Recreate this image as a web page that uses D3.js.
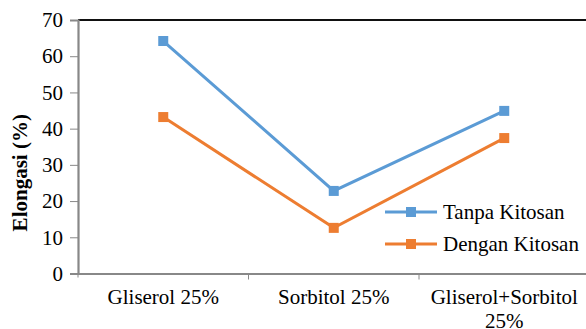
<!DOCTYPE html>
<html>
<head>
<meta charset="utf-8">
<script src="https://cdn.jsdelivr.net/npm/d3@7"></script>
<style>
  html, body { margin: 0; padding: 0; background: #fff; }
  svg { display: block; }
  svg text { font-family: "Liberation Serif", serif; fill: #000; }
</style>
</head>
<body>
<div id="chart"></div>
<script>
// Elongation of films by plasticizer type, with and without chitosan
const categories = ["Gliserol 25%", "Sorbitol 25%", "Gliserol+Sorbitol 25%"];
const tanpaKitosan = [64.2, 22.8, 44.9];
const denganKitosan = [43.2, 12.6, 37.4];
const seriesNames = ["Tanpa Kitosan", "Dengan Kitosan"];
const seriesColors = ["#5B9BD5", "#ED7D31"];
const yTicks = [0, 10, 20, 30, 40, 50, 60, 70];

const W = 586, H = 329;
const plot = { left: 78, top: 20, bottom: 273.5, step: 170.5 };
const FS = 21;

const svg = d3.select("#chart").append("svg")
  .attr("width", W).attr("height", H);

const x = d3.scaleBand()
  .domain(categories)
  .range([plot.left, plot.left + plot.step * categories.length])
  .padding(0);

const y = d3.scaleLinear().domain([0, 70]).range([plot.bottom, plot.top]);

// top border of plot area
svg.append("line")
  .attr("x1", plot.left).attr("x2", W)
  .attr("y1", y(70)).attr("y2", y(70))
  .attr("stroke", "#111").attr("stroke-width", 2);

// y axis
const yAxis = svg.append("g")
  .attr("transform", `translate(${plot.left},0)`)
  .call(d3.axisLeft(y).tickValues(yTicks).tickSize(8).tickPadding(7).tickFormat(d3.format("d")))
  .attr("font-family", null).attr("font-size", FS);
yAxis.select(".domain").attr("stroke", "#888").attr("stroke-width", 2.2);
yAxis.selectAll(".tick line").attr("stroke", "#888").attr("stroke-width", 1);
yAxis.selectAll(".tick text").attr("fill", "#000");

// x axis
const xAxis = svg.append("g")
  .attr("transform", `translate(0,${plot.bottom})`)
  .call(d3.axisBottom(x).tickSize(0).tickPadding(0).tickFormat(() => ""));
xAxis.select(".domain").attr("stroke", "#888").attr("stroke-width", 2.2);
xAxis.selectAll(".tick").remove();

// category boundary ticks
const bounds = categories.map(c => x(c));
svg.append("g").selectAll("line").data(bounds).join("line")
  .attr("x1", d => d).attr("x2", d => d)
  .attr("y1", plot.bottom).attr("y2", (d, i) => plot.bottom + (i === 0 ? 4 : 6))
  .attr("stroke", "#888").attr("stroke-width", 1);

// category labels (wrapped to the band width)
const labelLines = {
  "Gliserol 25%": ["Gliserol 25%"],
  "Sorbitol 25%": ["Sorbitol 25%"],
  "Gliserol+Sorbitol 25%": ["Gliserol+Sorbitol", "25%"]
};
const xl = svg.append("g");
categories.forEach(c => {
  const t = xl.append("text")
    .attr("x", x(c) + x.bandwidth() / 2)
    .attr("y", plot.bottom + 30)
    .attr("text-anchor", "middle")
    .attr("font-size", FS);
  labelLines[c].forEach((ln, i) => {
    t.append("tspan")
      .attr("x", x(c) + x.bandwidth() / 2)
      .attr("dy", i === 0 ? 0 : 24)
      .text(ln);
  });
});

// y axis title
svg.append("text")
  .attr("transform", `translate(27,${(plot.top + plot.bottom) / 2 + 26}) rotate(-90)`)
  .attr("text-anchor", "middle")
  .attr("font-size", FS).attr("font-weight", "bold")
  .text("Elongasi (%)");

// series lines with square markers
const series = [tanpaKitosan, denganKitosan];
const cx = c => x(c) + x.bandwidth() / 2;
const line = d3.line().x(d => cx(d.c)).y(d => y(d.v));

series.forEach((vals, si) => {
  const pts = categories.map((c, i) => ({ c, v: vals[i] }));
  svg.append("path")
    .attr("d", line(pts))
    .attr("fill", "none")
    .attr("stroke", seriesColors[si])
    .attr("stroke-width", 3);
  svg.append("g").selectAll("rect").data(pts).join("rect")
    .attr("x", d => cx(d.c) - 5).attr("y", d => y(d.v) - 5)
    .attr("width", 10).attr("height", 10)
    .attr("fill", seriesColors[si]);
});

// legend
const legend = svg.append("g").attr("transform", "translate(385,212)");
seriesNames.forEach((name, i) => {
  const g = legend.append("g").attr("transform", `translate(0,${i * 32})`);
  g.append("line").attr("x1", 0).attr("x2", 52).attr("y1", 0).attr("y2", 0)
    .attr("stroke", seriesColors[i]).attr("stroke-width", 3);
  g.append("rect").attr("x", 21).attr("y", -5).attr("width", 10).attr("height", 10)
    .attr("fill", seriesColors[i]);
  g.append("text").attr("x", 58).attr("y", 7).attr("font-size", FS).text(name);
});
</script>
</body>
</html>
